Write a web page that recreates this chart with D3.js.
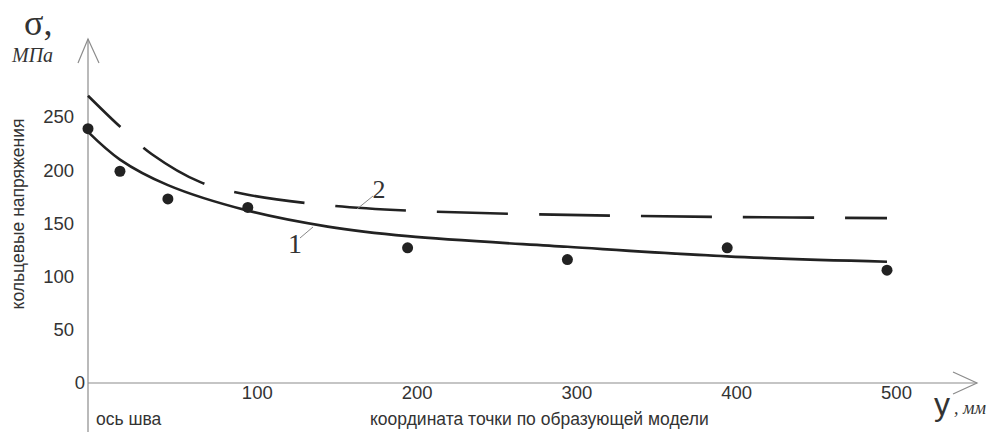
<!DOCTYPE html>
<html>
<head>
<meta charset="utf-8">
<script src="https://cdn.jsdelivr.net/npm/d3@7"></script>
<style>
  body { margin: 0; background: #fff; }
  svg { display: block; }
</style>
</head>
<body>
<svg id="chart" width="1004" height="435"></svg>
<script>
// measured points (dots)
const pointX = [0, 20, 50, 100, 200, 300, 400, 500];
const pointY = [239, 199, 173, 165, 127, 116, 127, 106];
// curve 1 (solid)
const line1X = [0, 20, 50, 100, 150, 200, 300, 400, 500];
const line1Y = [236, 210, 186, 162, 147, 138, 128, 119, 114];
// curve 2 (dashed)
const line2X = [0, 20, 40, 70, 100, 150, 200, 300, 400, 500];
const line2Y = [270, 241, 215, 189, 177, 167, 162, 158, 156, 155];
const yTicks = [0, 50, 100, 150, 200, 250];
const xTicks = [100, 200, 300, 400, 500];

const svg = d3.select("#chart");
const x = d3.scaleLinear().domain([0, 500]).range([88, 887]);
const y = d3.scaleLinear().domain([0, 250]).range([383, 117]);

const axisColor = "#8c8c8c";
const ink = "#222";
const sans = "'Liberation Sans', Arial, sans-serif";
const serif = "'Liberation Serif', 'Times New Roman', serif";

// axis lines with open arrows
svg.append("line")
  .attr("x1", 88).attr("y1", 432).attr("x2", 88).attr("y2", 39)
  .attr("stroke", axisColor).attr("stroke-width", 1.2);
svg.append("polyline")
  .attr("points", "78,63 88,39 99,63")
  .attr("fill", "none").attr("stroke", axisColor).attr("stroke-width", 1.2);
svg.append("line")
  .attr("x1", 88).attr("y1", y(0)).attr("x2", 977).attr("y2", y(0))
  .attr("stroke", axisColor).attr("stroke-width", 1.2);
svg.append("polyline")
  .attr("points", `953,${y(0) - 11} 977,${y(0)} 953,${y(0) + 11}`)
  .attr("fill", "none").attr("stroke", axisColor).attr("stroke-width", 1.2);

// y axis labels
const gy = svg.append("g")
  .attr("transform", "translate(88,0)")
  .call(d3.axisLeft(y).tickValues(yTicks).tickSize(0).tickPadding(14));
gy.select(".domain").remove();
gy.selectAll("text")
  .attr("font-family", sans).attr("font-size", 18.5).attr("fill", "#333")
  .attr("dx", d => d === 0 ? 11 : 0);

// x axis labels
const gx = svg.append("g")
  .attr("transform", `translate(0,${y(0)})`)
  .call(d3.axisBottom(x).tickValues(xTicks).tickSize(0).tickPadding(3));
gx.select(".domain").remove();
gx.selectAll("text")
  .attr("font-family", sans).attr("font-size", 18.5).attr("fill", "#333")
  .attr("dx", 9);

// curves
const line = d3.line()
  .x(d => x(d[0]))
  .y(d => y(d[1]))
  .curve(d3.curveCatmullRom.alpha(0.5));

svg.append("path")
  .datum(line2X.map((v, i) => [v, line2Y[i]]))
  .attr("d", line)
  .attr("fill", "none").attr("stroke", ink).attr("stroke-width", 2.6)
  .attr("stroke-dasharray", "71,31").attr("stroke-dashoffset", 26);

svg.append("path")
  .datum(line1X.map((v, i) => [v, line1Y[i]]))
  .attr("d", line)
  .attr("fill", "none").attr("stroke", ink).attr("stroke-width", 2.6);

svg.selectAll("circle.pt")
  .data(pointX.map((v, i) => [v, pointY[i]]))
  .enter().append("circle")
  .attr("class", "pt")
  .attr("cx", d => x(d[0])).attr("cy", d => y(d[1]))
  .attr("r", 5.5).attr("fill", ink);

// curve labels with leaders
svg.append("line")
  .attr("x1", 300).attr("y1", 238).attr("x2", 313).attr("y2", 227)
  .attr("stroke", "#888").attr("stroke-width", 1);
svg.append("text")
  .attr("x", 295).attr("y", 253).attr("text-anchor", "middle")
  .attr("font-family", serif).attr("font-size", 28).attr("fill", "#333")
  .text("1");
svg.append("line")
  .attr("x1", 357).attr("y1", 209).attr("x2", 373).attr("y2", 196)
  .attr("stroke", "#888").attr("stroke-width", 1);
svg.append("text")
  .attr("x", 379).attr("y", 198).attr("text-anchor", "middle")
  .attr("font-family", serif).attr("font-size", 26).attr("fill", "#333")
  .text("2");

// y axis title
svg.append("text")
  .attr("transform", "translate(24,214) rotate(-90)")
  .attr("text-anchor", "middle")
  .attr("font-family", sans).attr("font-size", 17.5).attr("fill", "#333")
  .text("кольцевые напряжения");
svg.append("text")
  .attr("x", 24).attr("y", 35)
  .attr("font-family", serif).attr("font-size", 36).attr("fill", "#333")
  .text("σ,");
svg.append("text")
  .attr("x", 12).attr("y", 62)
  .attr("font-family", serif).attr("font-style", "italic")
  .attr("font-size", 20).attr("fill", "#333")
  .text("МПа");

// x axis titles
svg.append("text")
  .attr("x", 96).attr("y", 425)
  .attr("font-family", sans).attr("font-size", 17.5).attr("fill", "#333")
  .text("ось шва");
svg.append("text")
  .attr("x", 370).attr("y", 425)
  .attr("font-family", sans).attr("font-size", 17.5).attr("fill", "#333")
  .text("координата точки по образующей модели");
svg.append("text")
  .attr("x", 934).attr("y", 415)
  .attr("font-family", sans).attr("font-size", 32).attr("fill", "#333")
  .text("у");
svg.append("text")
  .attr("x", 954).attr("y", 414)
  .attr("font-family", serif).attr("font-style", "italic")
  .attr("font-size", 18).attr("fill", "#333")
  .text(", мм");
</script>
</body>
</html>
